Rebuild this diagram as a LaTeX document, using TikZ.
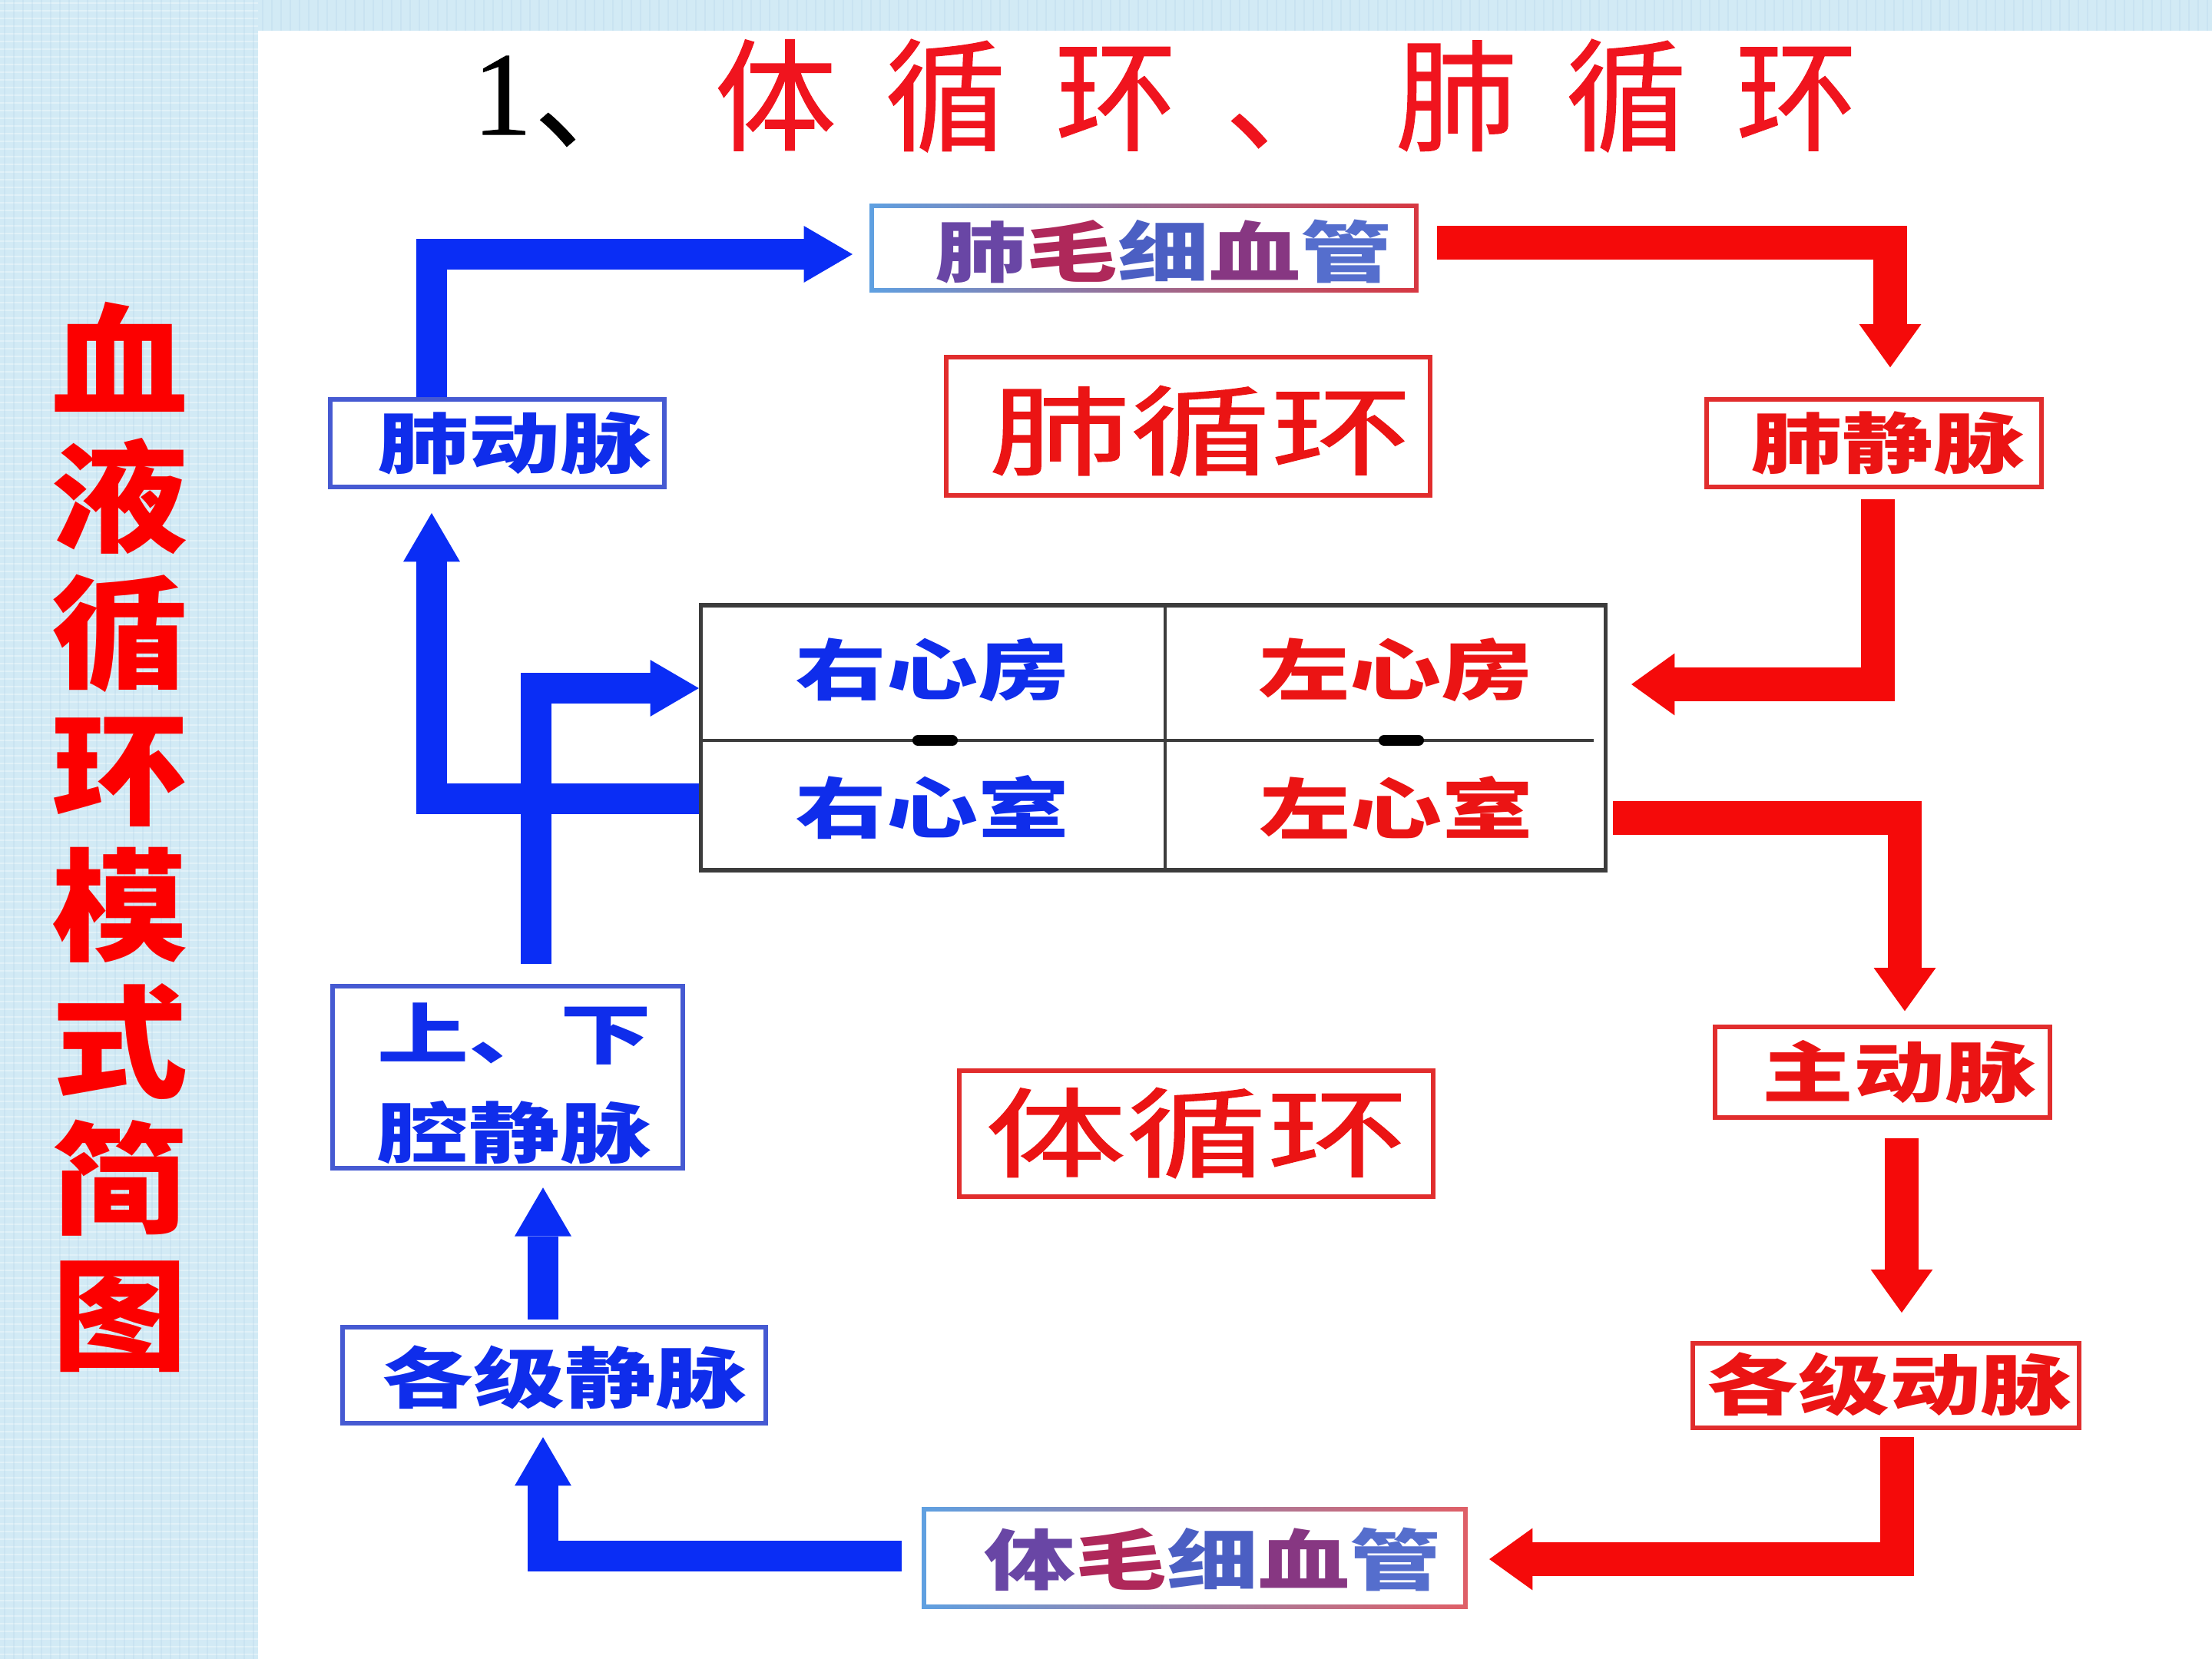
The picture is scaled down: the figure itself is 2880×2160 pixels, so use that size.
\documentclass[tikz,border=0pt]{standalone}
\usepackage{fontspec}
\usetikzlibrary{arrows.meta,calc}
\newfontfamily\cjk{Noto Sans CJK SC}
\newfontfamily\cjkbox[FakeStretch=1.38]{Noto Sans CJK SC}
\newfontfamily\cjklab[FakeStretch=1.45,FakeBold=1.2]{Noto Sans CJK SC}
\newfontfamily\cjkside[FakeStretch=1.12]{Noto Sans CJK SC}
\newfontfamily\cjktitle[LetterSpace=40,FakeBold=0.8]{Noto Sans CJK SC}
\newfontfamily\numfont[FakeBold=0.6]{Liberation Serif}
\definecolor{bgblue}{RGB}{210,234,245}
\definecolor{bgdark}{RGB}{175,210,230}
\definecolor{boxblue}{RGB}{70,90,210}
\definecolor{txtblue}{RGB}{15,45,235}
\definecolor{arrblue}{RGB}{10,45,245}
\definecolor{boxred}{RGB}{225,45,45}
\definecolor{txtred}{RGB}{235,20,20}
\definecolor{arrred}{RGB}{245,10,10}
\definecolor{sidered}{RGB}{252,0,0}
\definecolor{titlered}{RGB}{240,20,30}
\definecolor{heartgray}{RGB}{60,60,60}
\definecolor{gblue}{RGB}{95,160,225}
\definecolor{gmid}{RGB}{110,80,125}
\definecolor{gred}{RGB}{215,55,65}
\definecolor{cA}{RGB}{105,70,165}
\definecolor{cB}{RGB}{175,40,90}
\definecolor{cC}{RGB}{75,95,195}
\definecolor{cD}{RGB}{135,55,130}
\definecolor{cE}{RGB}{85,110,205}
\begin{document}
\begin{tikzpicture}[x=0.01cm,y=-0.01cm,
  bbox/.style={draw=boxblue, line width=1.7pt, fill=white, inner sep=0pt},
  rbox/.style={draw=boxred, line width=1.7pt, fill=white, inner sep=0pt},
  gbox/.style={inner sep=0pt},
  btxt/.style={text=txtblue, inner sep=0pt, font=\cjkbox\bfseries\fontsize{24.5}{28}\selectfont},
  rtxt/.style={text=txtred, inner sep=0pt, font=\cjkbox\bfseries\fontsize{24.5}{28}\selectfont},
  gtxt/.style={inner sep=0pt, font=\cjkbox\bfseries\fontsize{24.5}{28}\selectfont},
  rlab/.style={text=txtred, inner sep=0pt, font=\cjklab\fontsize{36}{40}\selectfont},
  barrow/.style={draw=arrblue, line width=11.5pt, -{Triangle[length=18pt,width=21pt,line width=0pt]}},
  rarrow/.style={draw=arrred, line width=12.5pt, -{Triangle[length=16pt,width=23pt,line width=0pt]}},
  heartline/.style={draw=heartgray, line width=1.3pt},
  texture/.style={line width=0.6pt}
]
\useasboundingbox (0,0) rectangle (2880,2160);
\fill[bgblue] (0,0) rectangle (2880,2160);
% light fabric-like texture on the blue margin
\foreach \yy in {4,14,...,2160} {\draw[texture, white, opacity=0.35] (0,\yy) -- (336,\yy);}
\foreach \xx in {6,18,...,330} {\draw[texture, bgdark, opacity=0.25] (\xx,0) -- (\xx,2160);}
\foreach \xx in {342,354,...,2880} {\draw[texture, bgdark, opacity=0.25] (\xx,0) -- (\xx,40);}
\fill[white] (336,40) rectangle (2880,2160);

% title
\node[inner sep=0pt, font=\numfont\fontsize{44}{44}\selectfont] (tnum) at (654,124) {1};
\node[anchor=base west, inner sep=0pt, font=\cjktitle\fontsize{44}{44}\selectfont] (tdun) at (695,182) {、};
\node[anchor=base west, inner sep=0pt, text=titlered, font=\cjktitle\fontsize{45}{45}\selectfont] (ttext) at (930,184) {体循环、肺循环};

% side title
\node[text=sidered, inner sep=0pt, align=center, font=\cjkside\bfseries\fontsize{45}{50.5}\selectfont] (side) at (156,1090) {血\\液\\循\\环\\模\\式\\简\\图};

% boxes
\node[gbox, minimum width=7.13cm, minimum height=1.14cm] (fmxg) at (1489.5,323) {};
\shade[left color=gblue, middle color=gmid, right color=gred] (fmxg.south west) rectangle (fmxg.north east);
\fill[white] ([shift={(6,-6)}]fmxg.south west) rectangle ([shift={(-6,6)}]fmxg.north east);
\node[gtxt] (fmxgt) at (1515,328) {\textcolor{cA}{肺}\textcolor{cB}{毛}\textcolor{cC}{细}\textcolor{cD}{血}\textcolor{cE}{管}};

\node[rbox, minimum width=6.3cm, minimum height=1.8cm] (fxh) at (1547,555) {};
\node[rlab] (fxht) at (1563,561) {肺循环};

\node[bbox, minimum width=4.35cm, minimum height=1.14cm] (fdm) at (647.5,577) {};
\node[btxt] (fdmt) at (670,577) {肺动脉};

\node[rbox, minimum width=4.36cm, minimum height=1.14cm] (fjm) at (2440,577) {};
\node[rtxt] (fjmt) at (2458,577) {肺静脉};

\node[draw=heartgray, line width=1.6pt, fill=white, inner sep=0pt, minimum width=11.77cm, minimum height=3.45cm] (heart) at (1501.5,960.5) {};
\coordinate (hv) at (1517,964);
\draw[heartline] (heart.north -| hv) -- (heart.south -| hv);
\draw[heartline] (heart.west |- hv) -- ($(heart.east |- hv)+(-18,0)$);
\draw[line width=4pt, line cap=round] (1195,964) -- (1240,964);
\draw[line width=4pt, line cap=round] (1802,964) -- (1847,964);
\node[btxt] (rxf) at (1214,872) {右心房};
\node[rtxt] (lxf) at (1817,872) {左心房};
\node[btxt] (rxs) at (1214,1051) {右心室};
\node[rtxt] (lxs) at (1818,1051) {左心室};

\node[bbox, minimum width=4.56cm, minimum height=2.37cm] (qjm) at (661,1402.5) {};
\node[btxt] (qjmt1) at (670,1346) {上、下};
\node[btxt] (qjmt2) at (670,1475) {腔静脉};

\node[rbox, minimum width=6.17cm, minimum height=1.64cm] (txh) at (1557.5,1476) {};
\node[rlab] (txht) at (1558,1475) {体循环};

\node[rbox, minimum width=4.36cm, minimum height=1.18cm] (zdm) at (2451,1396) {};
\node[rtxt] (zdmt) at (2473,1396) {主动脉};

\node[bbox, minimum width=5.51cm, minimum height=1.25cm] (gjjm) at (721.5,1790.5) {};
\node[btxt] (gjjmt) at (735,1793) {各级静脉};

\node[rbox, minimum width=5.03cm, minimum height=1.10cm] (gjdm) at (2455.5,1804) {};
\node[rtxt] (gjdmt) at (2460,1802) {各级动脉};

\node[gbox, minimum width=7.09cm, minimum height=1.31cm] (tmxg) at (1555.5,2028.5) {};
\shade[left color=gblue, middle color=gmid!60!white, right color=gred!80!white] (tmxg.south west) rectangle (tmxg.north east);
\fill[white] ([shift={(6,-6)}]tmxg.south west) rectangle ([shift={(-6,6)}]tmxg.north east);
\node[gtxt] (tmxgt) at (1579,2030) {\textcolor{cA}{体}\textcolor{cB}{毛}\textcolor{cC}{细}\textcolor{cD}{血}\textcolor{cE}{管}};

% blue arrows
\coordinate (cA1) at (562,331);
\draw[barrow, shorten >=6.3pt] (fdm.north -| cA1) -- (cA1) -- (cA1 -| fmxg.west);
\coordinate (cA2) at (562,1040);
\draw[barrow, shorten >=8.8pt] (heart.west |- cA2) -- (cA2) -- (cA2 |- fdm.south);
\coordinate (cA3) at (698,896);
\draw[barrow, shorten <=7.4pt] (qjm.north -| cA3) -- (cA3) -- (cA3 -| heart.west);
\coordinate (cA4) at (707,1600);
\draw[barrow, shorten <=2pt, shorten >=6.3pt] (gjjm.north -| cA4) -- (qjm.south -| cA4);
\coordinate (cA5) at (707,2026);
\draw[barrow, shorten <=7.4pt, shorten >=4.3pt] (tmxg.west |- cA5) -- (cA5) -- (cA5 |- gjjm.south);

% red arrows
\coordinate (cR1) at (2461,316);
\draw[rarrow, shorten <=6.8pt, shorten >=11pt] (fmxg.east |- cR1) -- (cR1) -- (cR1 |- fjm.north);
\coordinate (cR2) at (2445,891);
\draw[rarrow, shorten <=3.7pt, shorten >=8.8pt] (fjm.south -| cR2) -- (cR2) -- (cR2 -| heart.east);
\coordinate (cR3) at (2480,1065);
\draw[rarrow, shorten <=2pt, shorten >=5pt] (heart.east |- cR3) -- (cR3) -- (cR3 |- zdm.north);
\coordinate (cR4) at (2476,1600);
\draw[rarrow, shorten <=6.8pt, shorten >=10.5pt] (zdm.south -| cR4) -- (gjdm.north -| cR4);
\coordinate (cR5) at (2470,2030);
\draw[rarrow, shorten <=2.6pt, shorten >=8pt] (gjdm.south -| cR5) -- (cR5) -- (cR5 -| tmxg.east);
\end{tikzpicture}
\end{document}
